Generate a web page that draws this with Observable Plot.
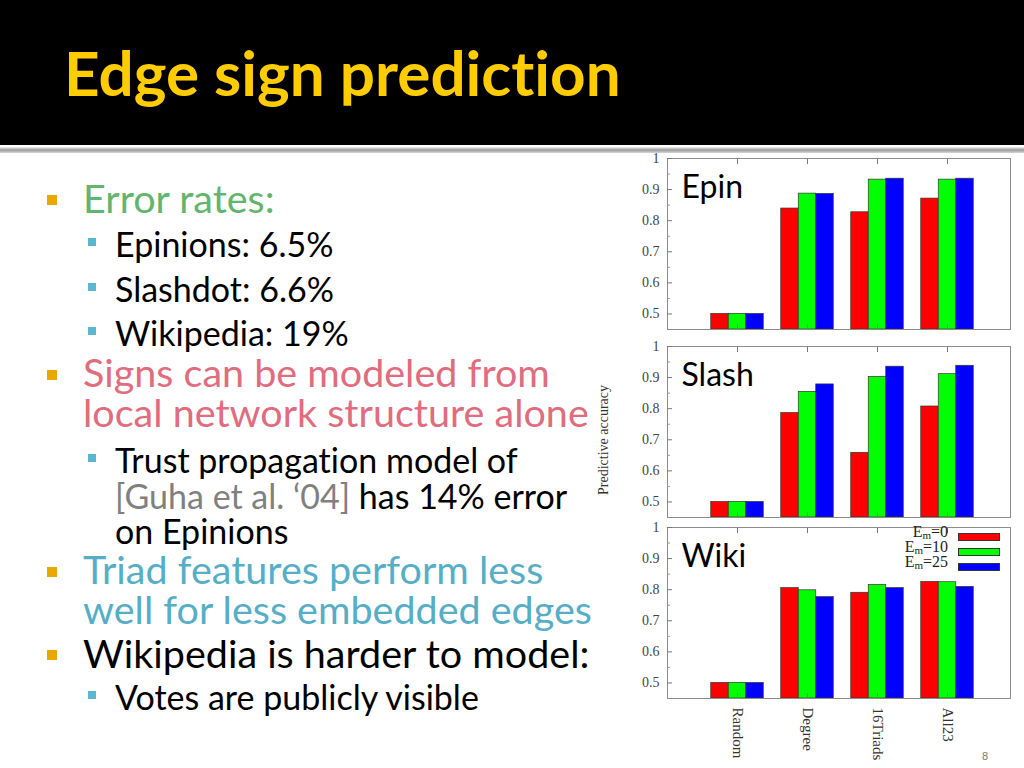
<!DOCTYPE html>
<html>
<head>
<meta charset="utf-8">
<script src="https://cdn.jsdelivr.net/npm/d3@7"></script>
<script src="https://cdn.jsdelivr.net/npm/@observablehq/plot@0.6"></script>
<style>
  html, body { margin: 0; padding: 0; background: #fff; }
  #slide { position: relative; width: 1024px; height: 768px; background: #fff; overflow: hidden; font-family: Lato, "Open Sans", sans-serif; font-variant-ligatures: none; }
  #header { position: absolute; left: 0; top: 0; width: 1024px; height: 145px; background: #000; }
  #title { position: absolute; left: 64px; top: 36px; font-size: 62px; font-weight: 700; color: #FFCC00; line-height: 72px; white-space: nowrap; }
  #rule { position: absolute; left: 0; top: 147px; width: 1024px; height: 6px; background: linear-gradient(#f2f2f2, #9a9a9a 50%, #d8d8d8); }
  .ln { position: absolute; white-space: nowrap; line-height: 34px; height: 34px; }
  .l1 { left: 83px; font-size: 39.5px; }
  .l2 { left: 115px; font-size: 34px; color: #000; }
  .b1 { position: absolute; left: 47px; width: 10px; height: 10px; background: #E8A800; }
  .b2 { position: absolute; left: 88px; width: 8px; height: 8px; background: #5BB7D0; }
  .panel { position: absolute; left: 600px; }
  .panel svg { overflow: visible; }
  #ylab { position: absolute; left: 604px; top: 440px; transform: translate(-50%, -50%) rotate(-90deg); font-family: "Liberation Serif", serif; font-size: 14px; color: #333; white-space: nowrap; }
  #legend { position: absolute; left: 880px; top: 529px; font-family: "Liberation Serif", serif; font-size: 16px; color: #222; }
  .lrow { position: relative; height: 15px; width: 130px; }
  .lrow span.t { position: absolute; right: 62px; top: -4px; line-height: 14px; white-space: nowrap; }
  .lrow sub { font-size: 11px; vertical-align: -2px; line-height: 0; }
  .lrow span.s { position: absolute; left: 78px; top: 4px; width: 42px; height: 8px; border: 1px solid #333; box-sizing: border-box; }
  #pagenum { position: absolute; left: 982px; top: 750px; font-size: 11px; color: #777; font-family: "Liberation Sans", sans-serif; }
</style>
</head>
<body>
<div id="slide">
  <div id="header"></div>
  <div id="title">Edge sign prediction</div>
  <div id="rule"></div>

  <div class="b1" style="top:195px"></div>
  <div class="ln l1" style="top:181px;color:#62B56C">Error rates:</div>
  <div class="b2" style="top:238px"></div>
  <div class="ln l2" style="top:227px">Epinions: 6.5%</div>
  <div class="b2" style="top:283px"></div>
  <div class="ln l2" style="top:272px">Slashdot: 6.6%</div>
  <div class="b2" style="top:327px"></div>
  <div class="ln l2" style="top:316px">Wikipedia: 19%</div>

  <div class="b1" style="top:370px"></div>
  <div class="ln l1" style="top:355px;color:#E06C7E">Signs can be modeled from</div>
  <div class="ln l1" style="top:395px;color:#E06C7E">local network structure alone</div>
  <div class="b2" style="top:454px"></div>
  <div class="ln l2" style="top:443px">Trust propagation model of</div>
  <div class="ln l2" style="top:479px"><span style="color:#808080">[Guha et al. ‘04]</span> has 14% error</div>
  <div class="ln l2" style="top:514px">on Epinions</div>

  <div class="b1" style="top:567px"></div>
  <div class="ln l1" style="top:552px;color:#56AEC6">Triad features perform less</div>
  <div class="ln l1" style="top:592px;color:#56AEC6">well for less embedded edges</div>
  <div class="b1" style="top:650px"></div>
  <div class="ln l1" style="top:636px;color:#000">Wikipedia is harder to model:</div>
  <div class="b2" style="top:691px"></div>
  <div class="ln l2" style="top:680px">Votes are publicly visible</div>

  <div id="p1" class="panel" style="top:148px"></div>
  <div id="p2" class="panel" style="top:336px"></div>
  <div id="p3" class="panel" style="top:517px"></div>
  <div id="ylab">Predictive accuracy</div>
  <div id="legend"></div>
  <div id="pagenum">8</div>
</div>
<script>
// ---- data ----
const categories = ["Random", "Degree", "16Triads", "All23"];
const seriesKeys = ["0", "10", "25"];
const seriesColors = ["#ff0000", "#00ff00", "#0000ff"];
const yTicks = [0.5, 0.6, 0.7, 0.8, 0.9, 1];
const yMinorTicks = [0.55, 0.65, 0.75, 0.85, 0.95];

const epinEm0  = [0.500, 0.839, 0.827, 0.871];
const epinEm10 = [0.500, 0.887, 0.932, 0.932];
const epinEm25 = [0.500, 0.886, 0.935, 0.935];

const slashEm0  = [0.500, 0.786, 0.658, 0.807];
const slashEm10 = [0.500, 0.854, 0.902, 0.911];
const slashEm25 = [0.500, 0.878, 0.935, 0.938];

const wikiEm0  = [0.500, 0.805, 0.790, 0.825];
const wikiEm10 = [0.500, 0.798, 0.815, 0.824];
const wikiEm25 = [0.500, 0.776, 0.805, 0.809];

// ---- layout options ----
const yDomain = [0.45, 1];
const xDomain = [-1, 3.9];
const barWidth = 0.25;
const catIdx = categories.map((_, i) => i);
const fmt = d => d === 1 ? "1" : d.toFixed(1);

function panel(name, s0, s10, s25, showX) {
  const rows = [];
  [s0, s10, s25].forEach((vals, si) =>
    vals.forEach((v, ci) => rows.push({cat: categories[ci], ci, series: seriesKeys[si], si, value: v})));
  const marks = [
    Plot.rectY(rows, {
      x1: d => d.ci + (d.si - 1.5) * barWidth,
      x2: d => d.ci + (d.si - 0.5) * barWidth,
      y1: yDomain[0], y2: "value",
      fill: "series", stroke: "#333", strokeWidth: 0.7
    }),
    Plot.frame({stroke: "#8c8c8c"}),
    Plot.axisY({ticks: yTicks, tickSize: 0, tickPadding: 8, tickFormat: fmt, fill: "#444", label: null}),
    Plot.axisY({ticks: yTicks, tickSize: -5, tickFormat: () => "", stroke: "#777", label: null}),
    Plot.axisY({ticks: yMinorTicks, tickSize: -3, tickFormat: () => "", stroke: "#999", label: null}),
    Plot.axisX({anchor: "top", ticks: catIdx, tickSize: -5, tickFormat: () => "", stroke: "#777", label: null}),
    Plot.axisX({anchor: "bottom", ticks: catIdx, tickSize: -5, tickFormat: () => "", stroke: "#777", label: null}),
    Plot.text([name], {frameAnchor: "top-left", text: d => d, dx: 14, dy: 29, lineAnchor: "middle", textAnchor: "start",
      fontFamily: "Lato, sans-serif", fontSize: 32, fill: "#000"})
  ];
  if (showX) {
    marks.push(Plot.axisX({anchor: "bottom", ticks: catIdx, tickSize: 0, tickPadding: 9, tickRotate: 90,
      tickFormat: i => categories[i], fill: "#333", fontSize: 15, label: null}));
  }
  return Plot.plot({
    width: 420,
    height: showX ? 251 : 185,
    marginLeft: 67, marginRight: 10, marginTop: 10, marginBottom: showX ? 70 : 4,
    style: {background: "transparent", fontFamily: "'Liberation Serif', 'Times New Roman', serif", fontSize: "14px", overflow: "visible"},
    x: {domain: xDomain, axis: null},
    y: {domain: yDomain, axis: null},
    color: {domain: seriesKeys, range: seriesColors},
    marks
  });
}

document.getElementById("p1").append(panel("Epin", epinEm0, epinEm10, epinEm25, false));
document.getElementById("p2").append(panel("Slash", slashEm0, slashEm10, slashEm25, false));
document.getElementById("p3").append(panel("Wiki", wikiEm0, wikiEm10, wikiEm25, true));

// legend
const legend = document.getElementById("legend");
seriesKeys.forEach((k, i) => {
  const row = document.createElement("div");
  row.className = "lrow";
  row.innerHTML = `<span class="t">E<sub>m</sub>=${k}</span><span class="s" style="background:${seriesColors[i]}"></span>`;
  legend.append(row);
});
</script>
</body>
</html>
